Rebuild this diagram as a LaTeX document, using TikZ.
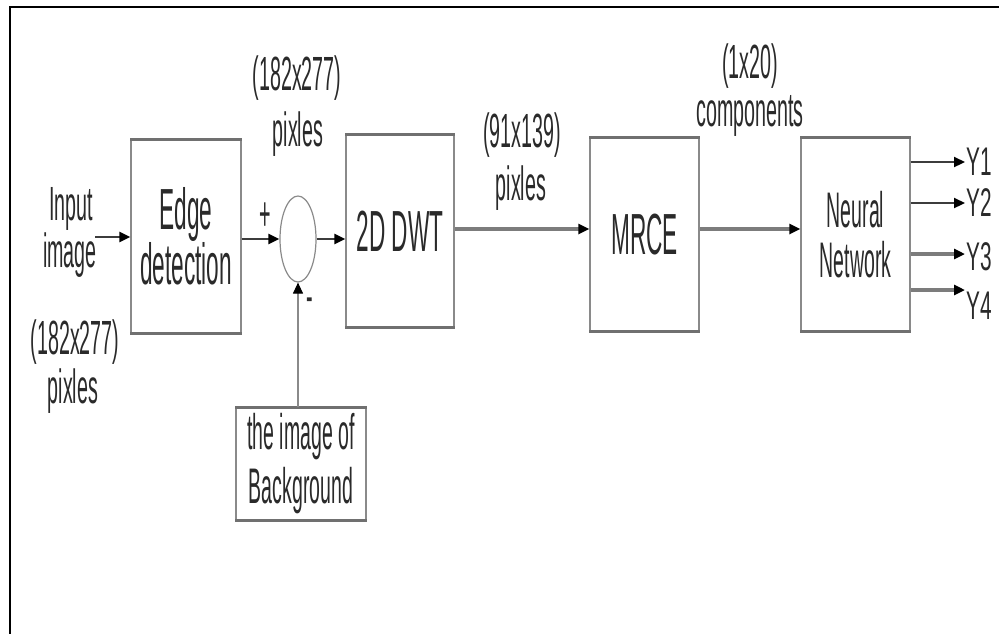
\documentclass[tikz,border=0pt]{standalone}
\usepackage{fontspec}
\setmainfont{Liberation Sans}
\newfontfamily\cond[FakeStretch=0.41]{Liberation Sans}
\newfontfamily\condb[FakeStretch=0.39]{Liberation Sans}
\newfontfamily\condm[FakeStretch=0.39]{Liberation Sans}
\newfontfamily\condy[FakeStretch=0.52]{Liberation Sans}
\usetikzlibrary{arrows.meta,shapes.geometric}
\definecolor{boxgray}{HTML}{8A8A8A}
\definecolor{edgegray}{HTML}{707070}
\definecolor{txt}{HTML}{2A2A2A}
\definecolor{darkline}{HTML}{3C3C3C}
\definecolor{thickline}{HTML}{7C7C7C}
\begin{document}
\begin{tikzpicture}[x=1pt,y=-1pt,
  box/.style={draw=boxgray, line width=1.3pt, inner sep=0pt, text=txt, align=center},
  bigtext/.style={font=\condb\fontsize{58}{47}\selectfont},
  midtext/.style={font=\condm\fontsize{50}{50}\selectfont},
  lbl/.style={text=txt, anchor=base, inner sep=0pt, font=\cond\fontsize{48}{44}\selectfont},
  ylbl/.style={text=txt, anchor=west, inner sep=0pt, font=\condy\fontsize{40}{33}\selectfont},
  edgeline/.style={draw=edgegray, line width=3pt},
  tip/.style={-{Triangle[length=11pt,width=10pt,color=black]}},
  thin/.style={tip, draw=darkline, line width=2.2pt},
  fat/.style={tip, draw=thickline, line width=4pt}
]
\useasboundingbox (0,0) rectangle (999,633);
% frame
\draw[line width=2.2pt, line cap=rect] (10,633) -- (10,7) -- (999,7);

% boxes
\node[box, bigtext, minimum width=110pt, minimum height=193pt] (edge) at (186,236.5) {Edge\\detection};
\node[box, bigtext, minimum width=108pt, minimum height=191pt] (dwt) at (400,231) {2D DWT};
\node[box, bigtext, minimum width=109pt, minimum height=193pt] (mrce) at (644.5,234.5) {MRCE};
\node[box, midtext, minimum width=109pt, minimum height=193pt] (nn) at (855.5,234.5) {Neural\\Network};
\node[box, font=\condm\fontsize{50}{54}\selectfont, minimum width=130pt, minimum height=112pt] (bg) at (301,464) {the image of\\Background};
\node[ellipse, draw=boxgray, line width=1.2pt, minimum width=36pt, minimum height=86pt, inner sep=0pt] (sum) at (298,239) {};

\foreach \b in {edge,dwt,mrce,nn,bg}{
  \draw[edgeline] (\b.north west) -- (\b.north east);
  \draw[edgeline] (\b.south west) -- (\b.south east);
}

% labels
\node[lbl] (inp) at (71,220) {Input};
\node[lbl] (img) at (70,267) {image};
\node[lbl] (ldim) at (75,354) {(182x277)};
\node[lbl] (lpix) at (73,403) {pixles};
\node[lbl] (tdim) at (297,90) {(182x277)};
\node[lbl] (tpix) at (298,146) {pixles};
\node[lbl] (mdim) at (522,147) {(91x139)};
\node[lbl] (mpix) at (521,200) {pixles};
\node[lbl] (cdim) at (750,78) {(1x20)};
\node[lbl] (comp) at (750,126) {components};
\node[text=txt, inner sep=0pt, font=\cond\fontsize{48}{40}\selectfont] (plus) at (265,217) {+};
\node[text=txt, inner sep=0pt, font=\cond\fontsize{48}{40}\selectfont] (minus) at (310,305) {-};

\node[ylbl] (y1) at (966,162) {Y1};
\node[ylbl] (y2) at (966,203) {Y2};
\node[ylbl] (y3) at (966,257) {Y3};
\node[ylbl] (y4) at (966,306) {Y4};

% connectors
\coordinate (in) at (95,237);
\coordinate (m) at (0,229);
\coordinate (t1) at (965,162);
\coordinate (t2) at (965,203);
\coordinate (t3) at (965,254);
\coordinate (t4) at (965,290);

\draw[thin] (in) -- (edge.west |- in);
\draw[thin] (edge.east |- sum.west) -- (sum.west);
\draw[thin] (sum.east) -- (dwt.west |- sum.east);
\draw[fat] (dwt.east |- m) -- (mrce.west |- m);
\draw[fat] (mrce.east |- m) -- (nn.west |- m);
\draw[tip, draw=boxgray, line width=1.2pt] (bg.north -| sum.south) -- (sum.south);
\draw[thin] (nn.east |- t1) -- (t1);
\draw[thin] (nn.east |- t2) -- (t2);
\draw[fat] (nn.east |- t3) -- (t3);
\draw[fat] (nn.east |- t4) -- (t4);
\end{tikzpicture}
\end{document}
